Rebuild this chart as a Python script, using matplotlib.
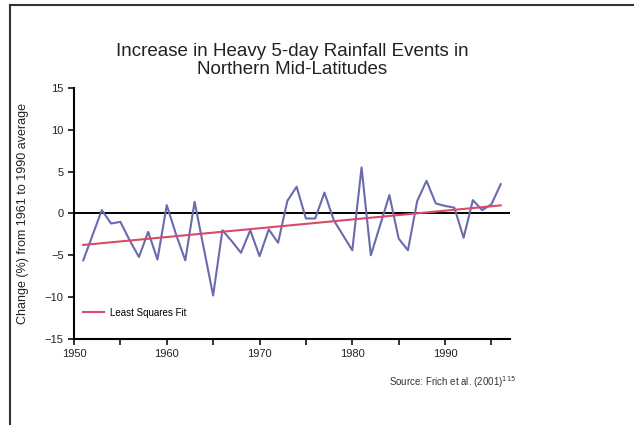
import matplotlib
matplotlib.use('Agg')
import matplotlib.pyplot as plt
from matplotlib.lines import Line2D
import numpy as np

plt.rcParams['font.family'] = ['Liberation Sans', 'DejaVu Sans']

years = list(range(1951, 1997))
change = [-5.6, -2.6, 0.4, -1.2, -1.0, -3.2, -5.2, -2.2, -5.5, 1.0,
          -2.5, -5.6, 1.4, -4.2, -9.8, -2.0, -3.3, -4.7, -2.0, -5.1,
          -1.9, -3.5, 1.5, 3.2, -0.6, -0.6, 2.5, -0.8, -2.6, -4.4,
          5.5, -5.0, -1.4, 2.2, -3.0, -4.4, 1.5, 3.9, 1.2, 0.9,
          0.7, -2.9, 1.6, 0.4, 1.1, 3.5]

title = 'Increase in Heavy 5-day Rainfall Events in\nNorthern Mid-Latitudes'
ylabel = 'Change (%) from 1961 to 1990 average'
source = 'Source: Frich et al. (2001)$^{115}$'

x = np.array(years)
y = np.array(change)
slope, icpt = np.polyfit(x, y, 1)

fig = plt.figure(figsize=(6.34, 4.25), dpi=100)
ax = fig.add_axes([0.1167, 0.2024, 0.6877, 0.5906])

ax.axhline(0, color='black', lw=1.4, zorder=1)
ax.plot(x, y, color='#6a6aae', lw=1.5, zorder=2)
ax.plot(x, slope * x + icpt, color='#d94a6a', lw=1.5, zorder=3, label='Least Squares Fit')

ax.set_xlim(1950, 1997)
ax.set_ylim(-15, 15)
ax.set_xticks(range(1950, 1996, 5))
ax.set_xticklabels([str(v) if v % 10 == 0 else '' for v in range(1950, 1996, 5)])
ax.set_yticks(range(-15, 16, 5))
for s in ['top', 'right']:
    ax.spines[s].set_visible(False)
for s in ['left', 'bottom']:
    ax.spines[s].set_linewidth(1.5)
ax.tick_params(direction='out', length=4, width=1.3, labelsize=8, colors='#222222')

ax.set_title(title, fontsize=13.5, color='#222222', pad=10, linespacing=1.1)
ax.set_ylabel(ylabel, fontsize=9, color='#222222', labelpad=11)

ax.legend(loc='lower left', bbox_to_anchor=(0.0, 0.05), frameon=False, fontsize=7,
          handlelength=2.2, handletextpad=0.6)

fig.text(0.815, 0.1, source, fontsize=7, ha='right', va='center', color='#333333')

# frame lines at top and left of picture
fig.add_artist(Line2D([10 / 634, 1], [1 - 5 / 425, 1 - 5 / 425], color='#333333', lw=1.5))
fig.add_artist(Line2D([10 / 634, 10 / 634], [0, 1 - 5 / 425], color='#333333', lw=1.5))

fig.savefig('out.png', dpi=100)
